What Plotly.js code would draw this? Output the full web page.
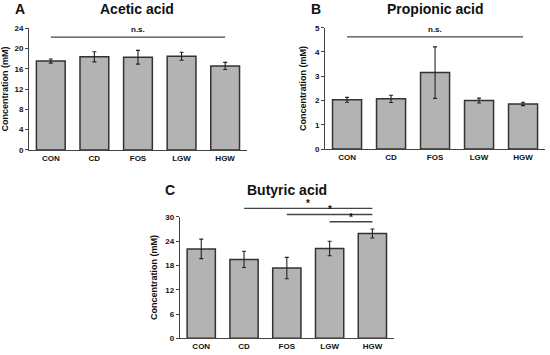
<!DOCTYPE html>
<html><head><meta charset="utf-8">
<script src="https://cdn.plot.ly/plotly-3.0.1.min.js"></script>
<style>body{margin:0;padding:0;background:#fff}#chart{width:550px;height:355px}</style>
</head><body><div id="chart"></div>
<script>
const categories = ['CON','CD','FOS','LGW','HGW'];
const aceticMean = [17.5, 18.35, 18.25, 18.45, 16.55];
const aceticErr  = [0.4, 1.0, 1.35, 0.8, 0.7];
const propionicMean = [2.03, 2.07, 3.15, 2.0, 1.86];
const propionicErr  = [0.1, 0.15, 1.06, 0.1, 0.07];
const butyricMean = [22.1, 19.5, 17.35, 22.2, 25.9];
const butyricErr  = [2.4, 2.0, 2.65, 1.8, 1.1];
const aceticTicks = [0,4,8,12,16,20,24];
const propionicTicks = [0,1,2,3,4,5];
const butyricTicks = [0,6,12,18,24,30];
// significance brackets: [from, to, height, label]
const aceticSig = [['CON','HGW',22.2,'n.s.']];
const propionicSig = [['CON','HGW',4.62,'n.s.']];
const butyricSig = [['CD','HGW',32.1,'*'],['FOS','HGW',30.6,'*'],['LGW','HGW',28.8,'*']];

const FONT = 'Liberation Sans, Arial, sans-serif';
function barTrace(y, e, xa, ya){
  return {type:'bar', x:categories, y:y, xaxis:xa, yaxis:ya,
    marker:{color:'#b3b3b3', line:{color:'#333333', width:1.5}},
    width:0.66,
    error_y:{type:'data', array:e, visible:true, color:'#222', thickness:1.1, width:2},
    hoverinfo:'none', showlegend:false};
}
const data = [
  barTrace(aceticMean, aceticErr, 'x', 'y'),
  barTrace(propionicMean, propionicErr, 'x2', 'y2'),
  barTrace(butyricMean, butyricErr, 'x3', 'y3')
];
function xax(dom, anchor){
  return {domain:dom, anchor:anchor, showline:true, linecolor:'#444', linewidth:1,
    ticks:'', showgrid:false, zeroline:false, fixedrange:true,
    tickfont:{family:FONT, size:8, color:'#111', weight:'bold'}};
}
function yax(dom, anchor, range, tv){
  return {domain:dom, anchor:anchor, range:range, tickvals:tv, showline:true, linecolor:'#444', linewidth:1,
    ticks:'outside', ticklen:3, tickcolor:'#444', showgrid:false, zeroline:false,
    tickfont:{family:FONT, size:8, color:'#111', weight:'bold'},
    title:{text:'Concentration (mM)', standoff:6, font:{family:FONT, size:9, color:'#111', weight:'bold'}}};
}
const cDom = [0.047,0.389];
const sigDomTop = 0.47;
const layout = {
  width:550, height:355, margin:{l:0,r:0,t:0,b:0}, paper_bgcolor:'#fff', plot_bgcolor:'rgba(0,0,0,0)',
  bargap:0.34, showlegend:false,
  xaxis: xax([0.0527,0.449],'y'),
  yaxis: yax([0.5775,0.921],'x',[0,24],aceticTicks),
  xaxis2: xax([0.591,0.991],'y2'),
  yaxis2: yax([0.580,0.922],'x2',[0,5],propionicTicks),
  xaxis3: xax([0.327,0.716],'y3'),
  yaxis3: yax(cDom,'x3',[0,30],butyricTicks),
  // invisible companion axis for panel C brackets, same scale as yaxis3 but taller
  yaxis4: {domain:[cDom[0], sigDomTop], anchor:'x3', range:[0, 30*(sigDomTop-cDom[0])/(cDom[1]-cDom[0])],
    visible:false, showgrid:false, zeroline:false},
  shapes:[], annotations:[]
};
const titles = [
  ['A','Acetic acid',20,137,9],
  ['B','Propionic acid',316,435,9],
  ['C','Butyric acid',170,287,190]
];
titles.forEach(t=>{
  layout.annotations.push({xref:'paper',yref:'paper',x:t[2]/550,y:1-t[4]/355,text:t[0],showarrow:false,
    xanchor:'center',yanchor:'middle',font:{family:FONT,size:14,color:'#111',weight:'bold'}});
  layout.annotations.push({xref:'paper',yref:'paper',x:t[3]/550,y:1-t[4]/355,text:t[1],showarrow:false,
    xanchor:'center',yanchor:'middle',font:{family:FONT,size:14,color:'#111',weight:'bold'}});
});
function addSig(list, xa, ya){
  list.forEach(s=>{
    const i0 = categories.indexOf(s[0]), i1 = categories.indexOf(s[1]);
    layout.shapes.push({type:'line', xref:xa, yref:ya, x0:i0, x1:i1, y0:s[2], y1:s[2],
      line:{color:'#444', width:1.3}});
    layout.annotations.push({xref:xa, yref:ya, x:(i0+i1)/2, y:s[2], text:s[3], showarrow:false,
      yanchor:'bottom', yshift:s[3]==='*'?-3:1, font:{family:FONT,size:s[3]==='*'?10:8,color:'#111',weight:'bold'}});
  });
}
addSig(aceticSig,'x','y');
addSig(propionicSig,'x2','y2');
addSig(butyricSig,'x3','y4');
data.push({type:'scatter', x:[categories[0]], y:[0], xaxis:'x3', yaxis:'y4', mode:'markers',
  marker:{opacity:0, size:1}, hoverinfo:'none', showlegend:false});
Plotly.newPlot('chart', data, layout, {staticPlot:true, displayModeBar:false});
</script></body></html>
